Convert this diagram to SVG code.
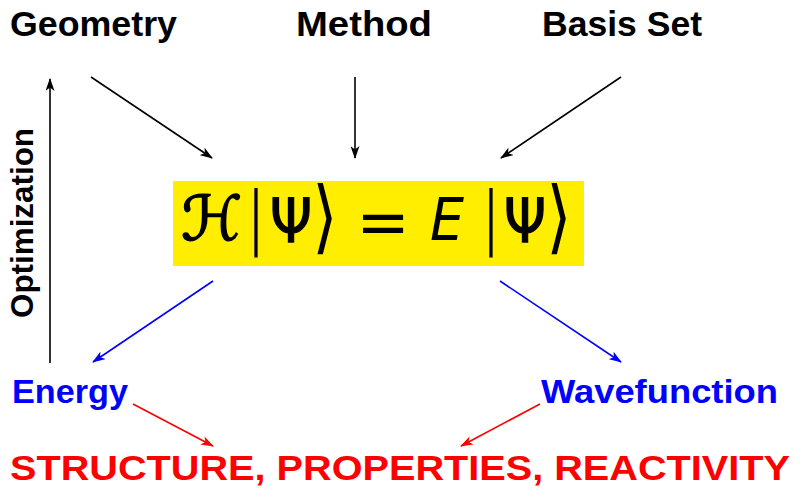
<svg xmlns="http://www.w3.org/2000/svg" width="800" height="489" viewBox="0 0 800 489">
<style>
.lbl{font-family:"Liberation Sans","DejaVu Sans",sans-serif;font-weight:bold}
.blk{fill:#000}
.blu{fill:#0000ff}
.red{fill:#ff0000}
.c{stroke-width:1.6;fill:none}
.math{font-family:"DejaVu Sans",sans-serif;fill:#000}
.psi{font-family:"DejaVu Sans",sans-serif;fill:#000;stroke:#000;stroke-width:1.3}
.fence{font-family:"DejaVu Sans",sans-serif;fill:#000;text-anchor:middle}
</style>
<defs>
<marker id="ak" viewBox="0 0 13 9" refX="12" refY="4.5" markerWidth="13" markerHeight="9" markerUnits="userSpaceOnUse" orient="auto">
<path d="M0,0 L13,4.5 L0,9 L3.5,4.5 z" fill="#000"/>
</marker>
<marker id="ab" viewBox="0 0 13 9" refX="12" refY="4.5" markerWidth="13" markerHeight="9" markerUnits="userSpaceOnUse" orient="auto">
<path d="M0,0 L13,4.5 L0,9 L3.5,4.5 z" fill="#0000ff"/>
</marker>
<marker id="ar" viewBox="0 0 13 9" refX="12" refY="4.5" markerWidth="13" markerHeight="9" markerUnits="userSpaceOnUse" orient="auto">
<path d="M0,0 L13,4.5 L0,9 L3.5,4.5 z" fill="#ff0000"/>
</marker>
</defs>
<g id="geometry"><text class="lbl blk" x="10" y="36" font-size="35" textLength="167" lengthAdjust="spacingAndGlyphs">Geometry</text></g>
<g id="method"><text class="lbl blk" x="296" y="36" font-size="35" textLength="136" lengthAdjust="spacingAndGlyphs">Method</text></g>
<g id="basisset"><text class="lbl blk" x="542" y="36" font-size="35" textLength="160" lengthAdjust="spacingAndGlyphs">Basis Set</text></g>
<g id="equation">
<rect x="173" y="181" width="411" height="85" fill="#ffee00"/>
<text class="math" x="181" y="240" font-size="62" font-family="DejaVu Serif" font-style="italic" stroke="#000" stroke-width="1.4">ℋ</text>
<text class="fence" transform="matrix(1,0,0,1.75,256,240.5)" font-size="40">|</text>
<text class="psi" x="270" y="242" font-size="60" textLength="42" lengthAdjust="spacingAndGlyphs">Ψ</text>
<text class="fence" transform="matrix(1.3,0,0,1.6,325,244.4)" font-size="50">⟩</text>
<text class="fence" x="383" y="243.5" font-size="64">=</text>
<text class="math" x="430" y="240" font-size="58" font-family="Liberation Sans" font-style="italic" textLength="34" lengthAdjust="spacingAndGlyphs">E</text>
<text class="fence" transform="matrix(1,0,0,1.75,491,240.5)" font-size="40">|</text>
<text class="psi" x="504" y="242" font-size="60" textLength="42" lengthAdjust="spacingAndGlyphs">Ψ</text>
<text class="fence" transform="matrix(1.3,0,0,1.6,559,244.4)" font-size="50">⟩</text>
</g>
<g id="optimization"><text class="lbl blk" transform="translate(33,318) rotate(-90)" font-size="32" textLength="190" lengthAdjust="spacingAndGlyphs">Optimization</text></g>
<g id="energy"><text class="lbl blu" x="12" y="403" font-size="33" textLength="116" lengthAdjust="spacingAndGlyphs">Energy</text></g>
<g id="wavefunction"><text class="lbl blu" x="541" y="403" font-size="33" textLength="237" lengthAdjust="spacingAndGlyphs">Wavefunction</text></g>
<g id="result"><text class="lbl red" x="10" y="480" font-size="35" textLength="780" lengthAdjust="spacingAndGlyphs">STRUCTURE, PROPERTIES, REACTIVITY</text></g>
<g id="connectors">
<line class="c" stroke="#000" x1="91" y1="77" x2="212" y2="158" marker-end="url(#ak)"/>
<line class="c" stroke="#000" x1="355" y1="77" x2="355" y2="158" marker-end="url(#ak)"/>
<line class="c" stroke="#000" x1="621" y1="77" x2="501" y2="158" marker-end="url(#ak)"/>
<line class="c" stroke="#000" x1="50" y1="363" x2="50" y2="79" marker-end="url(#ak)"/>
<line class="c" stroke="#0000ff" x1="213" y1="281" x2="93" y2="362" marker-end="url(#ab)"/>
<line class="c" stroke="#0000ff" x1="500" y1="281" x2="621" y2="362" marker-end="url(#ab)"/>
<line class="c" stroke="#ff0000" x1="133" y1="404" x2="213" y2="446" marker-end="url(#ar)"/>
<line class="c" stroke="#ff0000" x1="540" y1="404" x2="461" y2="446" marker-end="url(#ar)"/>
</g>
</svg>
